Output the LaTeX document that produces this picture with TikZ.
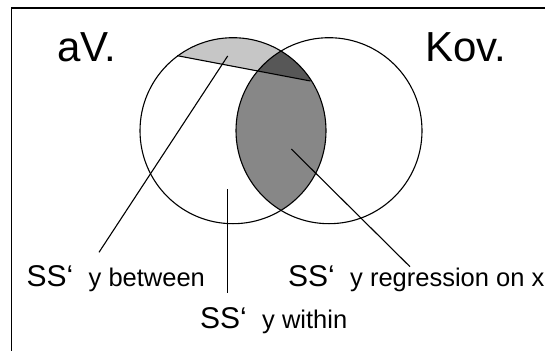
\documentclass[tikz,border=0pt]{standalone}
\usepackage{fontspec}
\setmainfont{Liberation Sans}
\definecolor{betlight}{HTML}{C6C6C6}
\definecolor{capdark}{HTML}{575757}
\definecolor{regmid}{HTML}{878787}

\begin{document}
\begin{tikzpicture}[x=1pt, y=-1pt,
  ring/.style={circle, draw, line width=1.1pt, minimum size=186pt, inner sep=0pt},
  leader/.style={line width=1.1pt},
  title/.style={anchor=base west, inner sep=0pt, font=\fontsize{42}{46}\selectfont},
  sslabel/.style={anchor=base west, inner sep=0pt, font=\fontsize{30}{34}\selectfont},
]
\useasboundingbox (0,0) rectangle (545,350);

% shaded parts
\begin{scope}
  \clip (233,130.7) circle[radius=93pt];
  \fill[regmid] (329,130.7) circle[radius=93pt];
\end{scope}
\begin{scope}
  \clip (233,130.7) circle[radius=93pt];
  \clip (44.2,30.4) -- (443.5,106.3) -- (443.5,0) -- (44.2,0) -- cycle;
  \fill[betlight] (0,0) rectangle (545,200);
  \fill[capdark] (329,130.7) circle[radius=93pt];
\end{scope}

\node[ring] (avc) at (233,130.7) {};
\node[ring] (kovc) at (329,130.7) {};

\coordinate (chA) at (177.3,55.7);
\coordinate (chB) at (310.4,81);
\draw[leader] (chA) -- (chB);

\node[title] (av) at (57,61.7) {aV.};
\node[title] (kov) at (425,61.7) {Kov.};

\node[sslabel] (between) at (26.5,286.7) {SS‘\hspace{7pt} {\fontsize{25.5}{28}\selectfont y between}};
\node[sslabel] (within) at (200,328.5) {SS‘\hspace{7pt} {\fontsize{25.5}{28}\selectfont y within}};
\node[sslabel] (regress) at (288,286.7) {SS‘\hspace{7pt} {\fontsize{25.5}{28}\selectfont y regression on x}};

\coordinate (capPt) at (227.7,56);
\coordinate (capEnd) at (99,252.3);
\coordinate (witPt) at (227.7,189.3);
\coordinate (witEnd) at (227.7,292.7);
\coordinate (regPt) at (291.3,149);
\coordinate (regEnd) at (410,266.7);
\draw[leader] (capPt) -- (capEnd);
\draw[leader] (witPt) -- (witEnd);
\draw[leader] (regPt) -- (regEnd);

% frame, cut off at right and bottom
\draw[line width=1.6pt] (11.5,352) -- (11.5,8.3) -- (547,8.3);
\end{tikzpicture}
\end{document}
